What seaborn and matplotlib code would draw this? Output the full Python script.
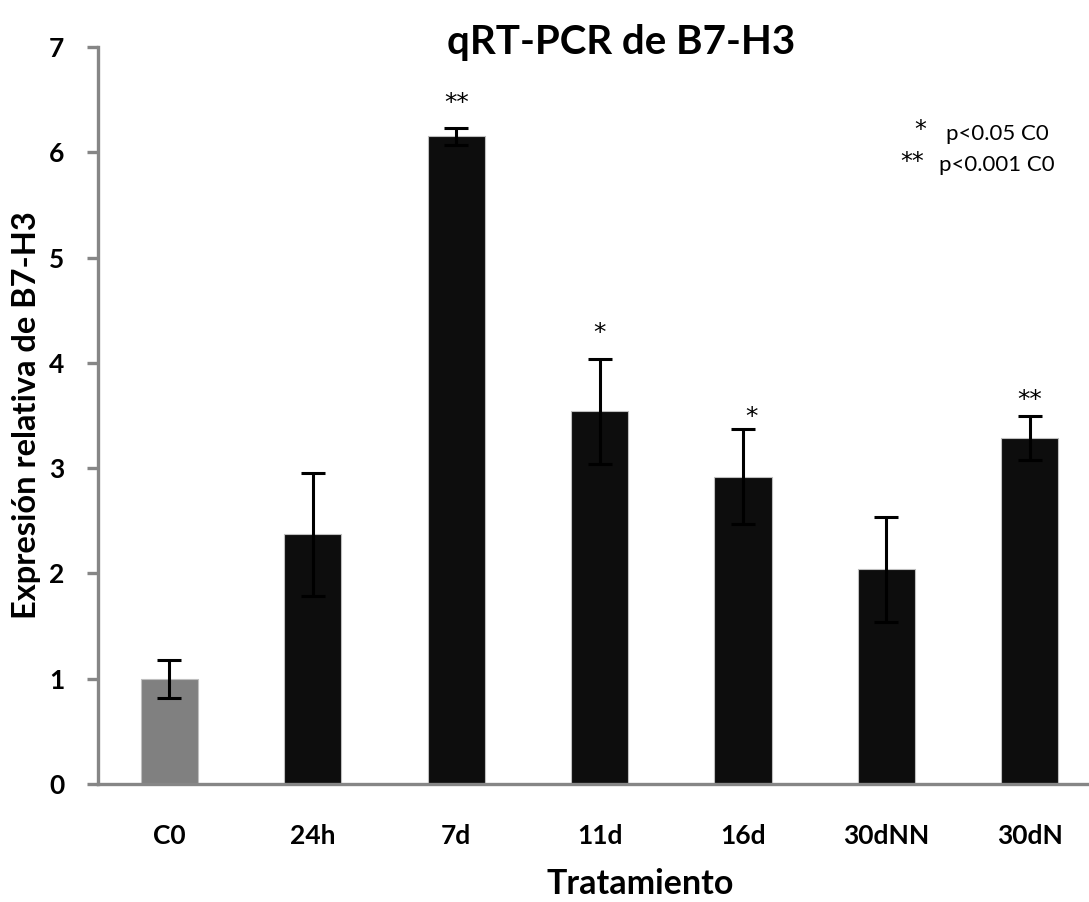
import matplotlib
matplotlib.use("Agg")
import matplotlib.pyplot as plt
import seaborn as sns
import pandas as pd

categories = ["C0", "24h", "7d", "11d", "16d", "30dNN", "30dN"]
values = [1.00, 2.37, 6.15, 3.54, 2.92, 2.04, 3.29]
errors = [0.18, 0.58, 0.08, 0.50, 0.45, 0.50, 0.21]
stars = ["", "", "**", "*", "*", "", "**"]
bar_colors = ["#808080", "#0d0d0d", "#0d0d0d", "#0d0d0d", "#0d0d0d", "#0d0d0d", "#0d0d0d"]
yticks = [0, 1, 2, 3, 4, 5, 6, 7]

sns.set_theme(style="white")
plt.rcParams["font.family"] = ["Lato", "DejaVu Sans"]
plt.rcParams["text.color"] = "black"
plt.rcParams["xtick.labelcolor"] = "black"
plt.rcParams["ytick.labelcolor"] = "black"

df = pd.DataFrame({"cat": categories, "val": values})

fig = plt.figure(figsize=(10.89, 9.02), dpi=100)
ax = fig.add_axes([97.7 / 1089, 118 / 902, (1101.5 - 97.7) / 1089, (784 - 47) / 902])

sns.barplot(data=df, x="cat", y="val", hue="cat", palette=bar_colors, legend=False,
            width=0.40, errorbar=None, ax=ax, edgecolor="#bfbfbf", linewidth=0.8, saturation=1)
ax.errorbar(range(len(categories)), values, yerr=errors, fmt="none", ecolor="black",
            elinewidth=2.2, capsize=8.5, capthick=2.2, zorder=5)

star_dx = [0, 0, 0, 0, 0.056, 0, 0]
star_dy = [0, 0, 0.24, 0.24, 0.12, 0, 0.15]
for i, (v, e, s) in enumerate(zip(values, errors, stars)):
    if s:
        ax.text(i + star_dx[i], v + e + star_dy[i], s, ha="center", va="center",
                fontsize=18, color="black", family="DejaVu Sans")

ax.set_ylim(0, 7)
ax.set_xlim(-0.5, 6.5)
ax.set_yticks(yticks)
ax.set_yticklabels([str(t) for t in yticks], fontsize=19, fontweight="bold")
ax.set_xticks(range(len(categories)))
ax.set_xticklabels(categories, fontsize=19, fontweight="bold")
ax.set_xlabel("")
ax.set_ylabel("")

for side in ["top", "right"]:
    ax.spines[side].set_visible(False)
for side in ["left", "bottom"]:
    ax.spines[side].set_color("#868686")
    ax.spines[side].set_linewidth(2.4)

ax.tick_params(axis="y", which="major", length=8, width=2.4, color="#868686", pad=16,
               left=True, direction="out")
ax.tick_params(axis="x", length=0, pad=29)

fig.text(0.570, 0.953, "qRT-PCR de B7-H3", ha="center", va="center",
         fontsize=29, fontweight="bold")
fig.text(0.024, 0.540, "Expresión relativa de B7-H3", ha="center", va="center",
         rotation=90, fontsize=23.5, fontweight="bold")
fig.text(640 / 1089, 8 / 902, "Tratamiento", ha="center", va="baseline",
         fontsize=24.5, fontweight="bold")

fig.text(920 / 1089, 1 - 130 / 902, "*", ha="center", va="center", fontsize=17,
         family="DejaVu Sans")
fig.text(946 / 1089, 1 - 134 / 902, "p<0.05 C0", ha="left", va="center", fontsize=16)
fig.text(912 / 1089, 1 - 162 / 902, "**", ha="center", va="center", fontsize=17,
         family="DejaVu Sans")
fig.text(939 / 1089, 1 - 165 / 902, "p<0.001 C0", ha="left", va="center", fontsize=16)

fig.savefig("out.png", dpi=100)
